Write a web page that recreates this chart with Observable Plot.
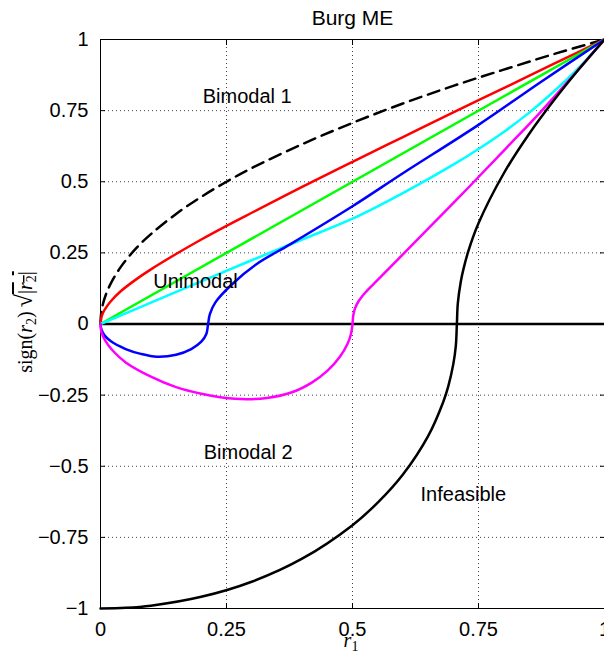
<!DOCTYPE html>
<html>
<head>
<meta charset="utf-8">
<script src="https://cdn.jsdelivr.net/npm/d3@7"></script>
<script src="https://cdn.jsdelivr.net/npm/@observablehq/plot@0.6"></script>
<style>
  html, body { margin: 0; padding: 0; background: #fff; }
  #chart svg { display: block; }
</style>
</head>
<body>
<div id="chart"></div>
<script>
// ---------- data ----------
const title = "Burg ME";
const xTicks = [0, 0.25, 0.5, 0.75, 1];
const yTicks = [-1, -0.75, -0.5, -0.25, 0, 0.25, 0.5, 0.75, 1];
const zeroLine = [0];

const dashX = [0, 0.0005, 0.002, 0.005, 0.01, 0.02, 0.04, 0.07, 0.1, 0.15, 0.2, 0.25, 0.3, 0.4, 0.5, 0.6, 0.7, 0.8, 0.9, 1];
const dashY = [0, 0.022, 0.045, 0.071, 0.1, 0.141, 0.2, 0.265, 0.316, 0.387, 0.447, 0.5, 0.548, 0.632, 0.707, 0.775, 0.837, 0.894, 0.949, 1];

const redX = [0, 0.002, 0.005, 0.01, 0.02, 0.04, 0.07, 0.1, 0.15, 0.2, 0.25, 0.3, 0.4, 0.5, 0.6, 0.7, 0.8, 0.9, 1];
const redY = [0, 0.025, 0.04, 0.055, 0.079, 0.115, 0.156, 0.192, 0.246, 0.297, 0.345, 0.391, 0.482, 0.57, 0.657, 0.744, 0.829, 0.915, 1];

const greenX = [0, 1];
const greenY = [0, 1];

const blueX = [0, 0.002, 0.008, 0.02, 0.05, 0.08, 0.112, 0.15, 0.18, 0.2, 0.21, 0.2135, 0.217, 0.228, 0.26, 0.31, 0.377, 0.5, 0.6, 0.75, 0.873, 1];
const blueY = [0, -0.02, -0.04, -0.06, -0.088, -0.105, -0.115, -0.108, -0.088, -0.062, -0.035, 0, 0.035, 0.076, 0.138, 0.211, 0.281, 0.414, 0.53, 0.7, 0.85, 1];

const cyanX = [0, 0.1, 0.2, 0.3, 0.4, 0.5, 0.6, 0.7, 0.75, 0.8, 0.85, 0.9, 0.95, 1];
const cyanY = [0, 0.075, 0.15, 0.224, 0.297, 0.37, 0.46, 0.56, 0.615, 0.675, 0.742, 0.818, 0.903, 1];

const magentaX = [0, 0.002, 0.01, 0.025, 0.05, 0.1, 0.15, 0.2, 0.267, 0.33, 0.38, 0.42, 0.45, 0.475, 0.49, 0.497, 0.5, 0.5015, 0.505, 0.512, 0.525, 0.55, 0.6, 0.675, 0.741, 0.807, 0.873, 0.94, 1];
const magentaY = [0, -0.03, -0.06, -0.095, -0.135, -0.185, -0.222, -0.245, -0.263, -0.26, -0.24, -0.205, -0.165, -0.115, -0.07, -0.035, 0, 0.03, 0.055, 0.08, 0.11, 0.155, 0.245, 0.38, 0.5, 0.622, 0.745, 0.878, 1];

const blackX = [0, 0.05, 0.1, 0.2, 0.3, 0.4, 0.5, 0.55, 0.6, 0.65, 0.68, 0.69, 0.7, 0.705, 0.7071, 0.709, 0.715, 0.72, 0.73, 0.75, 0.8, 0.85, 0.9, 0.95, 1];
const blackY = [-1, -0.9975, -0.99, -0.959, -0.906, -0.825, -0.707, -0.628, -0.529, -0.394, -0.274, -0.219, -0.141, -0.077, 0, 0.073, 0.15, 0.192, 0.257, 0.354, 0.529, 0.667, 0.787, 0.897, 1];

const regionLabels = ["Bimodal 1", "Unimodal", "Bimodal 2", "Infeasible"];
const regionX = [0.291, 0.1885, 0.293, 0.72];
const regionY = [0.8, 0.149, -0.452, -0.6];

// ---------- build ----------
const pts = (xs, ys) => xs.map((x, i) => ({x, y: ys[i]}));
const labels = regionLabels.map((t, i) => ({t, x: regionX[i], y: regionY[i]}));
const sans = "'Liberation Sans', Arial, Helvetica, sans-serif";
const serif = "'Liberation Serif', 'Times New Roman', serif";
const lw = 2.5;
const curve = "catmull-rom";
const fmt = d => (d < 0 ? "\u2212" : "") + String(Math.abs(d));

const chart = Plot.plot({
  width: 604,
  height: 653,
  marginLeft: 100,
  marginRight: 0,
  marginTop: 39,
  marginBottom: 45,
  x: {domain: [0, 1], label: null},
  y: {domain: [-1, 1], label: null},
  style: {fontFamily: sans, fontSize: "20px", color: "black", background: "white", overflow: "visible"},
  marks: [
    Plot.gridX(xTicks, {stroke: "#444", strokeOpacity: 1, strokeWidth: 1, strokeDasharray: "1,3"}),
    Plot.gridY(yTicks, {stroke: "#444", strokeOpacity: 1, strokeWidth: 1, strokeDasharray: "1,3"}),
    Plot.frame({stroke: "black", strokeWidth: 1}),
    Plot.axisX(xTicks, {anchor: "bottom", tickSize: 0, tickPadding: 13, label: null, fontSize: 20, tickFormat: fmt}),
    Plot.axisY(yTicks, {anchor: "left", tickSize: 0, tickPadding: 12, label: null, fontSize: 20, tickFormat: fmt}),
    Plot.axisX(xTicks, {anchor: "bottom", tickSize: -5, fill: "none", label: null}),
    Plot.axisX(xTicks, {anchor: "top", tickSize: -5, fill: "none", label: null}),
    Plot.axisY(yTicks, {anchor: "left", tickSize: -5, fill: "none", label: null}),
    Plot.axisY(yTicks, {anchor: "right", tickSize: -5, fill: "none", label: null}),
    Plot.ruleY(zeroLine, {stroke: "black", strokeWidth: lw}),
    Plot.line(pts(dashX, dashY), {x: "x", y: "y", stroke: "black", strokeWidth: lw, strokeDasharray: "12,7", curve}),
    Plot.line(pts(redX, redY), {x: "x", y: "y", stroke: "#ff0000", strokeWidth: lw, curve}),
    Plot.line(pts(greenX, greenY), {x: "x", y: "y", stroke: "#00ff00", strokeWidth: lw}),
    Plot.line(pts(cyanX, cyanY), {x: "x", y: "y", stroke: "#00ffff", strokeWidth: lw, curve}),
    Plot.line(pts(blueX, blueY), {x: "x", y: "y", stroke: "#0000ff", strokeWidth: lw, curve}),
    Plot.line(pts(magentaX, magentaY), {x: "x", y: "y", stroke: "#ff00ff", strokeWidth: lw, curve}),
    Plot.line(pts(blackX, blackY), {x: "x", y: "y", stroke: "black", strokeWidth: lw, curve}),
    Plot.text(labels, {x: "x", y: "y", text: "t", fontSize: 20, fill: "black"}),
    Plot.text([title], {frameAnchor: "top", lineAnchor: "middle", dy: -21, fontSize: 21, fill: "black"})
  ]
});

document.getElementById("chart").appendChild(chart);

// axis labels with math formatting
const svg = d3.select(chart);
const xl = svg.append("text")
  .attr("x", 351).attr("y", 647)
  .attr("text-anchor", "middle")
  .style("font-family", serif).style("font-size", "20px").attr("fill", "black");
xl.append("tspan").attr("font-style", "italic").text("r");
xl.append("tspan").attr("font-size", "14px").attr("dy", 4).text("1");

const yl = svg.append("text")
  .attr("transform", "translate(32,322) rotate(-90)")
  .attr("text-anchor", "middle")
  .style("font-family", serif).style("font-size", "20px").attr("fill", "black");
yl.append("tspan").text("sign(");
yl.append("tspan").attr("font-style", "italic").text("r");
yl.append("tspan").attr("font-size", "14px").attr("dy", 4).text("2");
yl.append("tspan").attr("dy", -4).text(")");
yl.append("tspan").attr("dx", 4).attr("font-size", "24px").text("\u221A");
const rad = yl.append("tspan").style("text-decoration", "overline");
rad.append("tspan").text("|");
rad.append("tspan").attr("font-style", "italic").text("r");
rad.append("tspan").attr("font-size", "14px").attr("dy", 4).text("2");
rad.append("tspan").attr("dy", -4).text("|");
</script>
</body>
</html>
